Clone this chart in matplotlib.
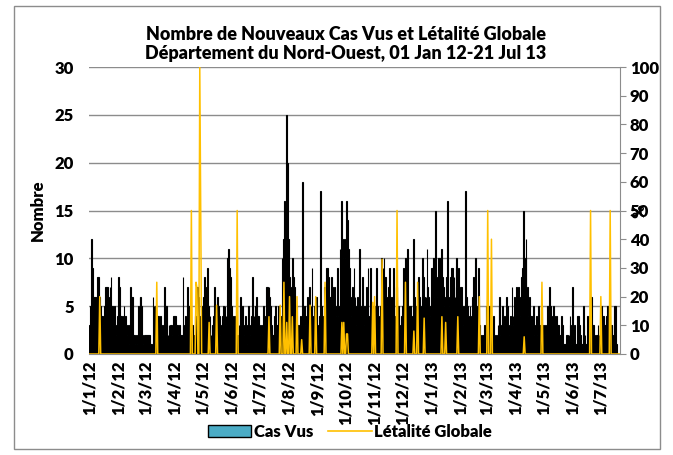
import numpy as np
import pandas as pd
import matplotlib
matplotlib.use("Agg")
import matplotlib.pyplot as plt
from matplotlib.patches import Patch, Rectangle
from matplotlib.lines import Line2D

plt.rcParams['font.family'] = ['Lato', 'DejaVu Sans']

# ---------------- data ----------------
start_date = "2012-01-01"
# daily new cases seen (Cas Vus), 1 Jan 2012 - 21 Jul 2013
cas_vus = [
    3, 5, 12, 9, 6, 6, 6, 6, 5, 8,
    8, 6, 5, 4, 4, 3, 5, 7, 7, 7,
    6, 5, 7, 8, 5, 5, 3, 5, 3, 2,
    4, 8, 7, 4, 4, 3, 4, 5, 4, 4,
    3, 2, 3, 1, 7, 6, 6, 2, 2, 1,
    2, 1, 5, 3, 6, 6, 5, 2, 1, 2,
    2, 2, 2, 2, 2, 1, 1, 0, 6, 5,
    2, 5, 3, 4, 4, 2, 4, 3, 2, 3,
    7, 5, 5, 3, 2, 3, 2, 3, 3, 2,
    4, 4, 4, 3, 3, 2, 3, 2, 2, 2,
    8, 3, 2, 4, 3, 7, 5, 5, 3, 3,
    3, 1, 2, 4, 4, 7, 7, 6, 2, 4,
    3, 5, 6, 8, 7, 4, 9, 5, 3, 4,
    2, 1, 3, 4, 7, 5, 3, 6, 5, 4,
    2, 3, 4, 5, 4, 5, 4, 3, 10, 11,
    9, 8, 5, 3, 4, 3, 4, 2, 1, 2,
    3, 5, 6, 3, 5, 3, 2, 4, 3, 1,
    5, 3, 2, 4, 8, 5, 4, 3, 5, 6,
    4, 4, 3, 2, 3, 2, 5, 4, 3, 7,
    7, 5, 7, 6, 5, 3, 2, 2, 4, 5,
    3, 3, 5, 4, 4, 3, 10, 7, 12, 16,
    12, 25, 20, 12, 8, 7, 5, 10, 8, 7,
    4, 3, 5, 3, 3, 2, 4, 3, 18, 4,
    5, 3, 4, 6, 5, 7, 4, 5, 9, 4,
    3, 5, 5, 6, 3, 2, 4, 17, 5, 4,
    2, 7, 5, 3, 9, 9, 8, 6, 6, 8,
    7, 5, 7, 5, 4, 9, 4, 5, 11, 9,
    16, 12, 10, 12, 10, 16, 14, 11, 9, 6,
    4, 7, 5, 9, 6, 5, 3, 6, 5, 11,
    5, 4, 8, 5, 3, 5, 7, 4, 9, 4,
    4, 9, 3, 4, 5, 5, 3, 9, 5, 4,
    3, 5, 10, 6, 9, 10, 8, 8, 6, 5,
    7, 9, 5, 6, 3, 9, 2, 4, 7, 6,
    4, 5, 3, 2, 4, 5, 9, 6, 10, 8,
    11, 5, 4, 5, 3, 2, 4, 12, 6, 5,
    4, 3, 8, 6, 5, 3, 10, 8, 6, 5,
    6, 11, 7, 6, 5, 4, 9, 9, 10, 6,
    15, 8, 6, 10, 10, 8, 10, 11, 8, 7,
    5, 6, 8, 16, 6, 5, 8, 9, 9, 7,
    8, 6, 9, 10, 7, 9, 6, 7, 7, 5,
    3, 5, 17, 6, 5, 4, 3, 5, 4, 3,
    6, 8, 5, 10, 5, 4, 9, 3, 2, 1,
    2, 2, 1, 3, 2, 5, 3, 2, 5, 3,
    2, 1, 4, 2, 1, 2, 1, 3, 5, 6,
    2, 3, 5, 4, 3, 4, 6, 5, 3, 2,
    4, 3, 7, 4, 3, 6, 4, 7, 5, 7,
    6, 4, 8, 9, 15, 8, 10, 12, 6, 7,
    4, 6, 4, 4, 3, 5, 2, 3, 4, 2,
    5, 3, 3, 2, 5, 3, 2, 3, 2, 3,
    5, 5, 7, 5, 4, 3, 5, 4, 2, 2,
    4, 3, 3, 2, 2, 4, 3, 1, 1, 1,
    2, 2, 1, 2, 4, 3, 1, 7, 2, 3,
    1, 1, 4, 4, 3, 2, 1, 1, 5, 3,
    2, 1, 1, 4, 3, 4, 5, 6, 3, 3,
    2, 1, 2, 2, 3, 2, 1, 1, 5, 4,
    4, 3, 3, 4, 5, 5, 4, 2, 3, 3,
    2, 2, 5, 5, 1, 0, 0, 0,
]
# Létalité globale (%) : day index (from 1 Jan 2012) and value; all other days 0
let_days = [11, 72, 109, 114, 115, 118, 119, 128, 136, 158,
            192, 204, 208, 211, 214, 217, 222, 227, 236, 242,
            252, 270, 272, 275, 276, 303, 305, 313, 329, 338,
            347, 351, 358, 377, 381, 394, 417, 426, 430, 465,
            484, 536, 547, 557]
let_vals = [20, 25, 50, 25, 23, 100, 50, 11, 17, 50,
            13, 17, 25, 11, 20, 13, 20, 5, 17, 20,
            25, 11, 11, 7, 7, 18, 20, 33, 50, 25,
            8, 25, 12.5, 13, 11, 13, 20, 50, 40, 6,
            25, 50, 20, 50]
tick_labels = ['1/1/12', '1/2/12', '1/3/12', '1/4/12', '1/5/12', '1/6/12',
               '1/7/12', '1/8/12', '1/9/12', '1/10/12', '1/11/12', '1/12/12',
               '1/1/13', '1/2/13', '1/3/13', '1/4/13', '1/5/13', '1/6/13',
               '1/7/13']
title_lines = ["Nombre de Nouveaux Cas Vus et Létalité Globale",
               "Département du Nord-Ouest, 01 Jan 12-21 Jul 13"]

# ---------------- derived ----------------
n = len(cas_vus)
x = np.arange(n)
letalite = np.zeros(n)
letalite[let_days] = let_vals
month_starts = pd.date_range(start_date, periods=len(tick_labels), freq='MS')
tick_pos = (month_starts - pd.Timestamp(start_date)).days.values

W, H = 673, 455
fig = plt.figure(figsize=(W / 100, H / 100), dpi=100)
L, R, T, B = 89, 620, 67, 354
ax = fig.add_axes([L / W, 1 - B / H, (R - L) / W, (B - T) / H])

grid_c = '#8c8c8c'
ax.bar(x, cas_vus, width=0.92, color='#4BACC6', edgecolor='black',
       linewidth=0.8, zorder=2)
ax.set_xlim(-0.5, n - 0.5)
ax.set_ylim(0, 30)
ax.set_yticks(np.arange(0, 31, 5))
ax.yaxis.grid(True, color=grid_c, linewidth=1)
ax.set_axisbelow(True)
ax.set_xticks(tick_pos)
ax.set_xticklabels(tick_labels, rotation=90, fontweight='heavy', fontsize=12)
for lab in ax.get_yticklabels():
    lab.set_fontweight('heavy')
    lab.set_fontsize(12)
ax.tick_params(axis='x', length=0, pad=5)
ax.tick_params(axis='y', length=0, pad=11)
for s in ['top', 'right', 'left']:
    ax.spines[s].set_visible(False)
ax.spines['bottom'].set_color(grid_c)

ax2 = ax.twinx()
ax2.plot(x, letalite, color='#FFC000', linewidth=1.1, zorder=3)
ax2.set_ylim(0, 100)
ax2.set_yticks(np.arange(0, 101, 10))
for lab in ax2.get_yticklabels():
    lab.set_fontweight('heavy')
    lab.set_fontsize(12)
ax2.tick_params(axis='y', length=4, pad=3, color=grid_c, direction='out')
for s in ['top', 'left', 'bottom']:
    ax2.spines[s].set_visible(False)
ax2.spines['right'].set_color(grid_c)

fig.text(346 / W, 1 - 34 / H, title_lines[0], ha='center', va='center',
         fontweight='heavy', fontsize=13)
fig.text(346 / W, 1 - 53 / H, title_lines[1], ha='center', va='center',
         fontweight='heavy', fontsize=13)
fig.text(38 / W, 1 - 210 / H, 'Nombre', rotation=90, ha='center', va='center',
         fontweight='heavy', fontsize=12)
fig.text(639 / W, 1 - 211 / H, '%', rotation=90, ha='center', va='center',
         fontweight='heavy', fontsize=12)

handles = [Patch(facecolor='#4BACC6', edgecolor='black', linewidth=1),
           Line2D([0], [0], color='#FFC000', linewidth=1.2)]
fig.legend(handles, ['Cas Vus', 'Létalité Globale'], loc='center',
           bbox_to_anchor=(350 / W, 1 - 432 / H), ncol=2, frameon=False,
           prop={'weight': 'heavy', 'size': 12}, handlelength=2.6,
           handletextpad=0.15, columnspacing=0.9, borderpad=0)

fig.patches.append(Rectangle((14 / W, 1 - 449 / H), (660 - 14) / W,
                             (449 - 6) / H, transform=fig.transFigure,
                             fill=False, edgecolor='#8c8c8c', linewidth=1))

fig.savefig('out.png', dpi=100)
